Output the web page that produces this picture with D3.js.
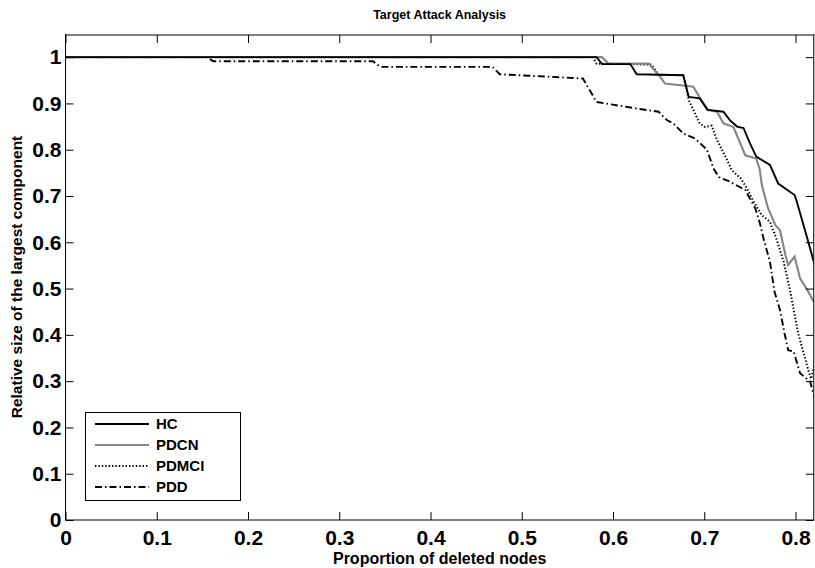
<!DOCTYPE html>
<html><head><meta charset="utf-8">
<script src="https://cdn.jsdelivr.net/npm/d3@7/dist/d3.min.js"></script>
<style>body{margin:0;background:#fff}svg{display:block}text{font-family:"Liberation Sans",Arial,sans-serif;font-weight:bold}</style>
</head><body><svg id="c" width="815" height="568"></svg>
<script>
const title = "Target Attack Analysis";
const xLabel = "Proportion of deleted nodes";
const yLabel = "Relative size of the largest component";
const xTicks = [0,0.1,0.2,0.3,0.4,0.5,0.6,0.7,0.8];
const yTicks = [0,0.1,0.2,0.3,0.4,0.5,0.6,0.7,0.8,0.9,1];
const seriesNames = ["HC","PDCN","PDMCI","PDD"];

const hcX = [0,0.582,0.588,0.619,0.626,0.677,0.683,0.695,0.704,0.721,0.728,0.736,0.743,0.750,0.757,0.772,0.781,0.799,0.801,0.814,0.821];
const hcY = [1,1,0.985,0.985,0.963,0.961,0.914,0.911,0.886,0.882,0.864,0.850,0.847,0.814,0.785,0.767,0.727,0.702,0.691,0.601,0.551];

const pdcnX = [0,0.588,0.595,0.639,0.652,0.657,0.688,0.703,0.714,0.721,0.732,0.745,0.757,0.761,0.763,0.770,0.778,0.783,0.789,0.792,0.799,0.805,0.812,0.821];
const pdcnY = [1,1,0.986,0.986,0.957,0.943,0.936,0.886,0.882,0.857,0.849,0.788,0.781,0.756,0.724,0.673,0.637,0.626,0.572,0.551,0.569,0.522,0.500,0.468];

const pdmciX = [0,0.578,0.582,0.642,0.650,0.677,0.680,0.683,0.695,0.701,0.708,0.714,0.725,0.730,0.740,0.747,0.754,0.763,0.772,0.779,0.787,0.794,0.798,0.803,0.810,0.814,0.817,0.821];
const pdmciY = [1,1,0.986,0.984,0.962,0.961,0.936,0.907,0.857,0.849,0.852,0.821,0.778,0.756,0.738,0.716,0.688,0.659,0.644,0.608,0.558,0.497,0.454,0.403,0.353,0.324,0.305,0.335];

const pddX = [0,0.155,0.162,0.337,0.345,0.468,0.476,0.567,0.582,0.626,0.650,0.659,0.666,0.677,0.690,0.703,0.710,0.716,0.728,0.745,0.756,0.761,0.765,0.772,0.777,0.783,0.788,0.792,0.798,0.805,0.816,0.821];
const pddY = [1,1,0.991,0.991,0.979,0.979,0.963,0.954,0.903,0.889,0.882,0.864,0.857,0.835,0.824,0.800,0.760,0.741,0.731,0.713,0.673,0.641,0.608,0.558,0.493,0.454,0.403,0.367,0.364,0.317,0.299,0.263];

const svg = d3.select("#c");
const L = 65.5, R = 813.75, T = 34, B = 520;
const x = d3.scaleLinear().domain([0,0.82]).range([L,R]);
const y = d3.scaleLinear().domain([0,1.05]).range([B,T]);

svg.append("clipPath").attr("id","pc").append("rect")
  .attr("x",L).attr("y",T-2).attr("width",R-L).attr("height",B-T+2);

const series = [
  {name:"HC", xs:hcX, ys:hcY, color:"#000", w:1.9, dash:null},
  {name:"PDCN", xs:pdcnX, ys:pdcnY, color:"#858585", w:2.1, dash:null},
  {name:"PDMCI", xs:pdmciX, ys:pdmciY, color:"#000", w:2, dash:"1.4,2"},
  {name:"PDD", xs:pddX, ys:pddY, color:"#000", w:1.9, dash:"7,3,1.5,3"}
];
const line = d3.line().x(d=>x(d[0])).y(d=>y(d[1]));
const g = svg.append("g").attr("clip-path","url(#pc)");
series.slice().reverse().forEach(s=>{
  g.append("path").datum(s.xs.map((v,i)=>[v,s.ys[i]]))
   .attr("d",line).attr("fill","none").attr("stroke",s.color)
   .attr("stroke-width",s.w).attr("stroke-dasharray",s.dash);
});

// axes
const xa = svg.append("g").attr("transform",`translate(0,${B})`)
  .call(d3.axisBottom(x).tickValues(xTicks).tickFormat(d=>d===0?"0":d3.format(".1f")(d)).tickSize(-8).tickPadding(10));
const ya = svg.append("g").attr("transform",`translate(${L},0)`)
  .call(d3.axisLeft(y).tickValues(yTicks).tickFormat(d=>d===0||d===1?String(d):d3.format(".1f")(d)).tickSize(-8).tickPadding(4));
const xt = svg.append("g").attr("transform",`translate(0,${T+1})`)
  .call(d3.axisTop(x).tickValues(xTicks).tickFormat("").tickSize(-8));
const yr = svg.append("g").attr("transform",`translate(${R},0)`)
  .call(d3.axisRight(y).tickValues(yTicks).tickFormat("").tickSize(-8));
[xa,ya,xt,yr].forEach(a=>{a.select(".domain").remove();a.selectAll("line").attr("stroke","#000");});
[xa,ya].forEach(a=>a.selectAll("text").attr("font-size",21).attr("fill","#000")
  .attr("font-family","Liberation Sans, Arial, sans-serif").attr("font-weight","bold"));
svg.append("line").attr("x1",L).attr("x2",L).attr("y1",T).attr("y2",B).attr("stroke","#000");
svg.append("line").attr("x1",L).attr("x2",R).attr("y1",B).attr("y2",B).attr("stroke","#000");
svg.append("line").attr("x1",L).attr("x2",R).attr("y1",T+1).attr("y2",T+1).attr("stroke","#000");
svg.append("line").attr("x1",R).attr("x2",R).attr("y1",T).attr("y2",B).attr("stroke","#000");

// labels
svg.append("text").attr("x",(L+R)/2).attr("y",19).attr("text-anchor","middle").attr("font-size",12.5).text(title);
svg.append("text").attr("x",(L+R)/2).attr("y",564).attr("text-anchor","middle").attr("font-size",16).text(xLabel);
svg.append("text").attr("transform",`translate(22,${(T+B)/2}) rotate(-90)`).attr("text-anchor","middle").attr("font-size",15.5).text(yLabel);

// legend
const lg = svg.append("g");
lg.append("rect").attr("x",85.5).attr("y",412.5).attr("width",155).attr("height",88).attr("fill","#fff").attr("stroke","#000");
series.forEach((s,i)=>{
  const yy = 424 + i*21;
  lg.append("line").attr("x1",95).attr("x2",149).attr("y1",yy).attr("y2",yy)
    .attr("stroke",s.color).attr("stroke-width",s.w).attr("stroke-dasharray",s.dash);
  lg.append("text").attr("x",156).attr("y",yy).attr("dy","0.36em").attr("font-size",15).text(seriesNames[i]);
});
</script></body></html>
